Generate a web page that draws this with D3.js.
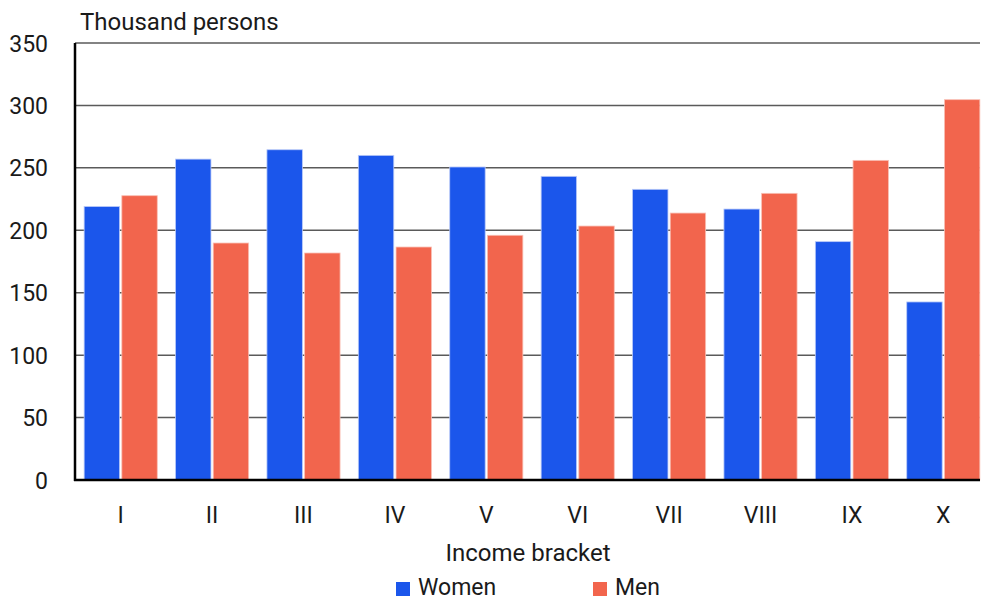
<!DOCTYPE html>
<html>
<head>
<meta charset="utf-8">
<script src="https://cdn.jsdelivr.net/npm/d3@7"></script>
<style>
html,body{margin:0;padding:0;background:#fff;}
svg{display:block;font-family:"Roboto","Noto Sans",sans-serif;}
</style>
</head>
<body>
<svg id="chart" width="983" height="602"></svg>
<script>
const categories = ["I","II","III","IV","V","VI","VII","VIII","IX","X"];
const seriesNames = ["Women","Men"];
const women = [219, 257, 264.5, 260, 250.7, 243.2, 232.8, 217, 190.9, 142.6];
const men = [227.7, 189.8, 181.8, 186.6, 196, 203.4, 213.8, 229.6, 256, 304.6];
const yTicks = [0, 50, 100, 150, 200, 250, 300, 350];
const colors = ["#1b56eb", "#f2654d"];
const yTitle = "Thousand persons";
const xTitle = "Income bracket";

const svg = d3.select("#chart");
const m = {left: 75, top: 43, bottom: 122};
const W = 983, H = 602;
const plotRight = 989;

const x = d3.scaleBand().domain(categories).range([m.left, plotRight]).paddingInner(0.2).paddingOuter(0.1);
const xs = d3.scaleBand().domain(seriesNames).range([0, x.bandwidth()]).paddingInner(0.06);
const y = d3.scaleLinear().domain([0, 350]).range([H - m.bottom, m.top]);

// gridlines
svg.append("g").selectAll("line").data(yTicks.filter(d => d > 0)).join("line")
  .attr("x1", m.left).attr("x2", W - 3)
  .attr("y1", d => y(d)).attr("y2", d => y(d))
  .attr("stroke", "#5a5a5a").attr("stroke-width", 1.5);

// bars
const data = categories.map((c, i) => ({c, vals: [women[i], men[i]]}));
const g = svg.append("g");
data.forEach(d => {
  seriesNames.forEach((s, j) => {
    g.append("rect")
      .attr("x", x(d.c) + xs(s))
      .attr("y", y(d.vals[j]))
      .attr("width", xs.bandwidth())
      .attr("height", y(0) - y(d.vals[j]))
      .attr("fill", colors[j])
      .attr("stroke", j === 0 ? "#b9c9f8" : "#f9c0b5")
      .attr("stroke-width", 0.8);
  });
});

// y axis
const yAxis = d3.axisLeft(y).tickValues(yTicks).tickSize(0).tickPadding(27);
const ya = svg.append("g").attr("transform", `translate(${m.left},0)`).call(yAxis);
ya.select(".domain").remove();
ya.selectAll("text").attr("font-size", 23).attr("fill", "#1a1a1a").attr("font-family", "Roboto").attr("dy", "0.35em");

// x axis
const xAxis = d3.axisBottom(x).tickSize(0).tickPadding(27);
const xa = svg.append("g").attr("transform", `translate(0,${y(0)})`).call(xAxis);
xa.select(".domain").remove();
xa.selectAll("text").attr("font-size", 23).attr("fill", "#1a1a1a").attr("font-family", "Roboto");

// axis lines
svg.append("line").attr("x1", m.left).attr("x2", m.left).attr("y1", y(350)).attr("y2", y(0) + 1)
  .attr("stroke", "#000").attr("stroke-width", 2.5);
svg.append("line").attr("x1", m.left - 1).attr("x2", W - 3).attr("y1", y(0)).attr("y2", y(0))
  .attr("stroke", "#000").attr("stroke-width", 2.5);

// titles
svg.append("text").attr("x", 80).attr("y", 30).attr("font-size", 24).attr("fill", "#1a1a1a").text(yTitle);
svg.append("text").attr("x", 528).attr("y", 561).attr("text-anchor", "middle").attr("font-size", 24).attr("fill", "#1a1a1a").text(xTitle);

// legend
const legX = [396, 593];
seriesNames.forEach((s, i) => {
  svg.append("rect").attr("x", legX[i]).attr("y", 582).attr("width", 14).attr("height", 14).attr("fill", colors[i]);
  svg.append("text").attr("x", legX[i] + 22).attr("y", 595).attr("font-size", 23).attr("fill", "#1a1a1a").text(s);
});
</script>
</body>
</html>
